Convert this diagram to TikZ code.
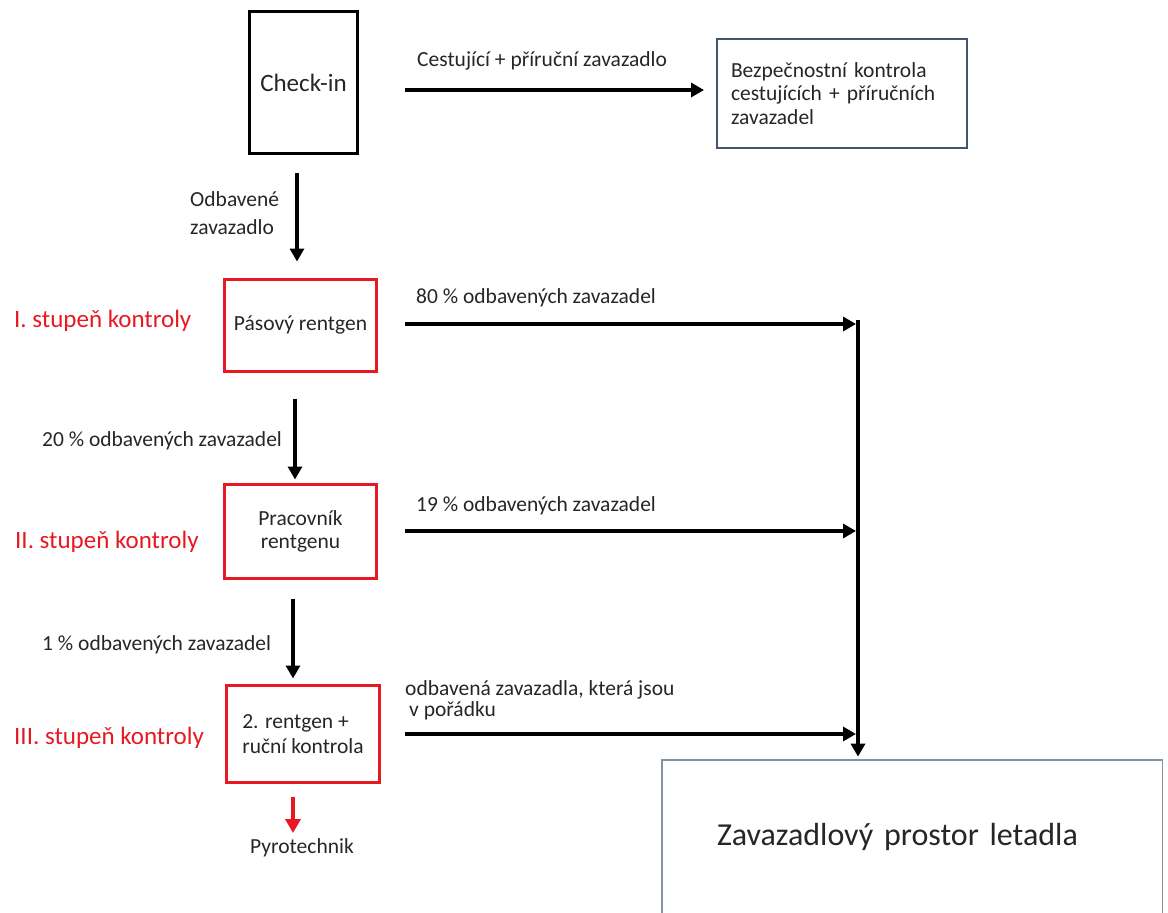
\documentclass[tikz,border=0pt]{standalone}
\usepackage{fontspec}
\setmainfont{Carlito}
\usetikzlibrary{arrows.meta}
\definecolor{boxred}{RGB}{230,25,35}
\definecolor{slate}{RGB}{68,84,106}
\definecolor{holdgray}{RGB}{132,146,162}
\begin{document}
\begin{tikzpicture}[x=1pt,y=-1pt,
  every node/.style={font=\fontsize{21.5}{24}\selectfont, inner sep=0pt, text=black!85},
  blackbox/.style={draw=black, line width=3pt},
  redbox/.style={draw=boxred, line width=3pt, align=center},
  flow/.style={line width=4pt, -{Triangle[length=13pt,width=14pt]}},
  redflow/.style={draw=boxred, line width=4pt, -{Triangle[length=14pt,width=15pt]}},
  lbl/.style={anchor=west, align=left},
  stage/.style={anchor=west, text=boxred, font=\fontsize{25}{30}\selectfont}]
\useasboundingbox (0,0) rectangle (1168,913);

% boxes
\node[blackbox, minimum width=108pt, minimum height=142pt, font=\fontsize{25}{30}\selectfont]
  (checkin) at (303.5,82.5) {Check-in};
\node[draw=slate, line width=2pt, minimum width=250pt, minimum height=109pt,
  text width=222pt, inner xsep=14pt, align=left, font=\fontsize{21.5}{23.5}\selectfont]
  (sec) at (842,93.5) {Bezpečnostní kontrola\\cestujících + příručních\\zavazadel};
\node[redbox, minimum width=152pt, minimum height=92pt] (pas) at (300.5,325.5) {Pásový rentgen};
\node[redbox, minimum width=152pt, minimum height=94pt, font=\fontsize{21.5}{23.5}\selectfont]
  (prac) at (300.5,531.5) {Pracovník\\rentgenu};
\node[redbox, minimum width=153pt, minimum height=97pt, align=left, font=\fontsize{21.5}{25}\selectfont]
  (third) at (303,734) {2. rentgen +\\ruční kontrola};
\node[draw=holdgray, line width=1.5pt, minimum width=500.5pt, minimum height=155pt,
  text width=390pt, inner xsep=55pt, align=left,
  font=\fontsize{32}{38}\selectfont] (hold) at (912,837.4) {Zavazadlový prostor letadla};
\node (pyro) at (302,848) {Pyrotechnik};

% stage labels
\node[stage] (st1) at (14,321) {I. stupeň kontroly};
\node[stage] (st2) at (15,542) {II. stupeň kontroly};
\node[stage] (st3) at (14,738) {III. stupeň kontroly};

% connector labels
\node[lbl] (l0) at (417,61) {Cestující + příruční zavazadlo};
\node[lbl, font=\fontsize{21.5}{28}\selectfont] (l1) at (190,213) {Odbavené\\zavazadlo};
\node[lbl] (l2) at (416,298) {80 \% odbavených zavazadel};
\node[lbl] (l3) at (42,441) {20 \% odbavených zavazadel};
\node[lbl] (l4) at (416,506) {19 \% odbavených zavazadel};
\node[lbl] (l5) at (42,645) {1 \% odbavených zavazadel};
\node[lbl, font=\fontsize{21.5}{21}\selectfont] (l6) at (405,700) {odbavená zavazadla, která jsou\\\hspace*{4pt}v pořádku};

% junction coordinates
\coordinate (jtop) at (858,320);
\coordinate (j1) at (856,324);
\coordinate (j2) at (856,531);
\coordinate (j3) at (856,734);
\coordinate (pyrotip) at (293,833);

% connectors
\draw[flow] ([shift={(45.5,7.5)}]checkin.east) -- ([shift={(-12,-3.5)}]sec.west);
\draw[flow] ([shift={(-6.5,17.5)}]checkin.south) -- ([shift={(-3.5,-16.5)}]pas.north);
\draw[flow] ([shift={(-5.5,25.5)}]pas.south) -- ([shift={(-5.5,-3.5)}]prac.north);
\draw[flow] ([shift={(-7.5,18.5)}]prac.south) -- ([shift={(-10,-5.5)}]third.north);
\draw[redflow] ([shift={(-10,12.5)}]third.south) -- (pyrotip);

\draw[flow] ([shift={(26.5,-1.5)}]pas.east) -- (j1);
\draw[flow] ([shift={(26.5,-0.5)}]prac.east) -- (j2);
\draw[flow] ([shift={(23.5,0)}]third.east) -- (j3);
\draw[flow, shorten >=2.5pt] (jtop) -- (jtop |- hold.north);
\end{tikzpicture}
\end{document}
